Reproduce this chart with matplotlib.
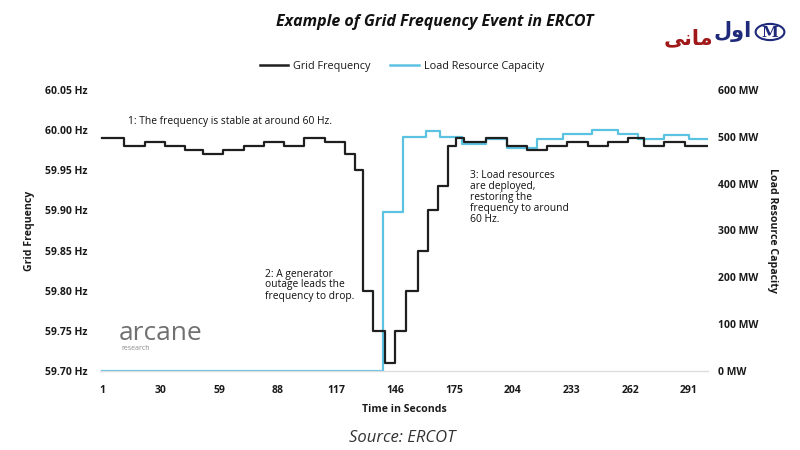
import matplotlib
matplotlib.use("Agg")
import matplotlib.pyplot as plt
from matplotlib.lines import Line2D
from matplotlib.patches import Circle
import numpy as np

plt.rcParams['font.family'] = ['Open Sans', 'DejaVu Sans']

# ---- data (segment start second -> level) ----
freq_t = [1, 12, 22, 32, 42, 51, 61, 71, 81, 91, 101, 111, 121, 126, 130, 135,
          141, 146, 151, 157, 162, 167, 172, 176, 180, 191, 201, 211, 221, 231,
          241, 251, 261, 269, 279, 289, 300]
freq_v = [59.99, 59.98, 59.985, 59.98, 59.975, 59.97, 59.975, 59.98, 59.985, 59.98,
          59.99, 59.985, 59.97, 59.95, 59.80, 59.75, 59.71, 59.75, 59.80, 59.85,
          59.90, 59.93, 59.98, 59.99, 59.985, 59.99, 59.98, 59.975, 59.98, 59.985,
          59.98, 59.985, 59.99, 59.98, 59.985, 59.98, 59.98]

cap_t = [1, 140, 150, 161, 168, 179, 191, 201, 216, 229, 243, 256, 266, 279, 291, 300]
cap_v = [0, 340, 500, 512, 500, 485, 495, 476, 495, 506, 515, 506, 495, 504, 495, 495]

x_ticks = [1, 30, 59, 88, 117, 146, 175, 204, 233, 262, 291]
freq_ticks = [59.70, 59.75, 59.80, 59.85, 59.90, 59.95, 60.00, 60.05]
cap_ticks = [0, 100, 200, 300, 400, 500, 600]

BLACK = '#1f1f1f'
BLUE = '#5cc2e2'
TXT = '#1a1a1a'

fig = plt.figure(figsize=(8, 4.5), dpi=100)
ax = fig.add_axes([0.125, 0.1756, 0.76, 0.6244])
ax2 = ax.twinx()

ax.plot(freq_t, freq_v, drawstyle='steps-post', color=BLACK, lw=1.6, zorder=3)
ax2.plot(cap_t, cap_v, drawstyle='steps-post', color=BLUE, lw=1.6, zorder=2)
ax.set_zorder(ax2.get_zorder() + 1)
ax.patch.set_visible(False)

ax.set_xlim(0, 300.5)
ax.set_ylim(59.70, 60.05)
ax2.set_ylim(0, 600)

ax.set_xticks(x_ticks)
ax.set_xticklabels([str(v) for v in x_ticks])
ax.set_yticks(freq_ticks)
ax.set_yticklabels([f"{v:.2f} Hz" for v in freq_ticks])
ax2.set_yticks(cap_ticks)
ax2.set_yticklabels([f"{v} MW" for v in cap_ticks])

for a in (ax, ax2):
    for s in a.spines.values():
        s.set_visible(False)
ax.spines['bottom'].set_visible(True)
ax.spines['bottom'].set_color('#dddddd')
ax.spines['bottom'].set_linewidth(1.0)

ax.tick_params(axis='x', length=0, pad=10, labelsize=7.5, labelcolor=TXT)
ax.tick_params(axis='y', length=0, pad=9, labelsize=7.5, labelcolor=TXT)
ax2.tick_params(axis='y', length=0, pad=7, labelsize=7.5, labelcolor=TXT)
for lab in ax.get_xticklabels() + ax.get_yticklabels() + ax2.get_yticklabels():
    lab.set_fontweight('bold')

ax.set_xlabel("Time in Seconds", fontsize=7.6, fontweight='bold', color=TXT, labelpad=6)
ax.set_ylabel("Grid Frequency", fontsize=7.6, fontweight='bold', color=TXT, labelpad=7)
ax2.set_ylabel("Load Resource Capacity", fontsize=7.6, fontweight='bold', color=TXT,
               rotation=270, labelpad=14)

# annotations
ann_kw = dict(fontsize=7.4, color='#111111', va='center', ha='left', linespacing=1.0)
fig.text(128/800, 1-121/450, "1: The frequency is stable at around 60 Hz.", **ann_kw)
fig.text(265/800, 1-285/450, "2: A generator\noutage leads the\nfrequency to drop.", **ann_kw)
fig.text(470/800, 1-197/450,
         "3: Load resources\nare deployed,\nrestoring the\nfrequency to around\n60 Hz.", **ann_kw)

# title
fig.text(435/800, 1-22/450, "Example of Grid Frequency Event in ERCOT", fontsize=11.5,
         fontweight='bold', fontstyle='italic', ha='center', va='center', color='#111111')

# legend
handles = [Line2D([], [], color=BLACK, lw=1.8), Line2D([], [], color=BLUE, lw=1.8)]
leg = fig.legend(handles, ["Grid Frequency", "Load Resource Capacity"], loc='center',
                 bbox_to_anchor=(402/800, 1-66/450), ncol=2, frameon=False, fontsize=7.8,
                 handlelength=2.6, handletextpad=0.5, columnspacing=1.8)
for t in leg.get_texts():
    t.set_color(TXT)

# source
fig.text(402/800, 1-438/450, "Source: ERCOT", fontsize=12, fontstyle='italic',
         ha='center', va='center', color='#333333')

# arcane logo
fig.text(119/800, 1-333/450, "arcane", fontsize=19, color='#707070', ha='left', va='center')
fig.text(121/800, 1-349/450, "research", fontsize=5, color='#8a8a8a', ha='left', va='center')

# Persian logo (pre-shaped presentation forms, visual order)
fig.text(752/800, 1-32/450, "\uFEDD\uFEED\uFE8D", fontsize=15, fontweight='bold',
         color='#1f2a7a', ha='right', va='center', family=['DejaVu Sans'])
fig.text(713/800, 1-38/450, "\uFEF0\uFEE7\uFE8E\uFEE3", fontsize=15, fontweight='bold',
         color='#a01818', ha='right', va='center', family=['DejaVu Sans'])
circ = Circle((770/800, 1-32/450), 0.018, transform=fig.transFigure, fill=False,
              edgecolor='#1f2a7a', lw=1.5)
fig.add_artist(circ)
fig.text(770/800, 1-33/450, "M", fontsize=11, color='#1f2a7a', ha='center', va='center',
         fontweight='bold', family=['DejaVu Serif'])

fig.savefig("out.png", dpi=100, facecolor='white')
